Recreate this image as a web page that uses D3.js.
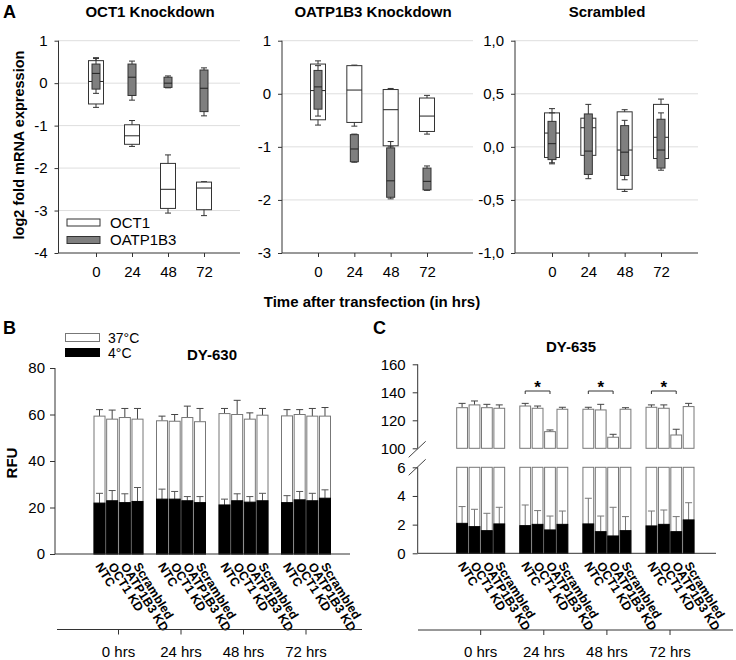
<!DOCTYPE html>
<html><head><meta charset="utf-8">
<script src="https://cdn.jsdelivr.net/npm/d3@7"></script>
<style>body{margin:0;background:#fff} text{font-family:"Liberation Sans",Arial,sans-serif}</style>
</head><body><svg id="c" width="736" height="660"></svg>
<script>
// ---------- DATA ----------
const timepoints = ["0","24","48","72"];
// box stats per time point: [min, q1, median, q3, max]
const oct1KD_OCT1 = [[-0.57,-0.49,0.04,0.53,0.60],[-1.49,-1.44,-1.24,-0.98,-0.88],[-3.06,-2.95,-2.50,-1.89,-1.69],[-3.12,-2.98,-2.47,-2.33,-2.32]];
const oct1KD_OATP = [[-0.24,-0.14,0.23,0.45,0.58],[-0.40,-0.29,0.14,0.45,0.52],[-0.11,-0.10,0.00,0.14,0.17],[-0.77,-0.67,-0.12,0.31,0.36]];
const oatpKD_OCT1 = [[-0.59,-0.49,0.06,0.56,0.62],[-0.61,-0.54,0.07,0.53,0.54],[-1.00,-0.98,-0.30,0.08,0.10],[-0.76,-0.71,-0.42,-0.08,-0.03]];
const oatpKD_OATP = [[-0.42,-0.29,0.13,0.44,0.53],[-1.29,-1.28,-1.04,-0.77,-0.76],[-1.98,-1.95,-1.64,-1.02,-0.90],[-1.82,-1.81,-1.65,-1.40,-1.36]];
const scr_OCT1 = [[-0.15,-0.10,0.13,0.32,0.36],[-0.09,-0.08,0.18,0.27,0.28],[-0.42,-0.40,-0.03,0.33,0.35],[-0.12,-0.11,0.09,0.40,0.45]];
const scr_OATP = [[-0.16,-0.12,0.03,0.24,0.32],[-0.30,-0.26,-0.04,0.31,0.40],[-0.31,-0.27,-0.05,0.20,0.25],[-0.22,-0.20,-0.03,0.26,0.32]];
const ticksA1 = [1,0,-1,-2,-3,-4];
const ticksA2 = [1,0,-1,-2,-3];
const ticksA3 = [1,0.5,0,-0.5,-1];
const seriesNames = ["OCT1","OATP1B3"];

const hours = ["0 hrs","24 hrs","48 hrs","72 hrs"];
const treatments = ["NTC","OCT1 KD","OATP1B3 KD","Scrambled"];
const tempNames = ["37°C","4°C"];
// values ordered hour-major (0h: NTC, OCT1 KD, OATP1B3 KD, Scrambled; then 24h ...)
const dy630_37 = [59.3,58.0,58.7,58.0, 57.3,57.1,58.7,56.9, 60.4,60.0,58.0,59.7, 59.4,60.0,59.3,59.3];
const dy630_37err = [2.8,3.9,3.9,4.6, 2.0,2.9,4.9,5.7, 2.2,6.1,2.7,2.9, 2.7,2.1,3.3,3.7];
const dy630_4 = [21.9,22.9,22.1,22.6, 23.6,23.6,22.9,22.1, 21.1,22.9,22.3,22.9, 22.1,23.3,22.9,24.0];
const dy630_4err = [4.2,4.4,3.8,6.0, 4.3,3.3,1.8,2.6, 2.5,3.0,2.4,3.2, 3.0,3.6,3.2,3.6];
const dy635_37 = [129.0,131.0,129.0,128.6, 130.2,128.6,111.9,127.9, 127.9,127.4,107.9,127.9, 129.3,128.6,109.5,129.8];
const dy635_37err = [3.1,2.8,2.4,2.4, 1.9,1.6,1.2,1.4, 1.4,4.0,2.1,1.1, 1.7,2.4,4.1,2.3];
const dy635_4 = [2.09,1.86,1.58,2.05, 1.93,2.02,1.63,2.02, 2.05,1.51,1.21,1.58, 1.91,2.02,1.51,2.33];
const dy635_4err = [1.17,1.21,1.21,1.16, 1.44,0.96,0.97,0.93, 1.79,1.09,2.00,0.98, 1.04,1.00,1.05,1.20];
const ticksB = [0,20,40,60,80];
const ticksCupper = [100,120,140,160];
const ticksClower = [0,2,4,6];
// significance brackets: [hour index, treatment a, treatment b]
const sigPairs = [[1,0,2],[2,0,2],[3,0,2]];

// ---------- DRAW ----------
const svg = d3.select("#c");
const FONT = "'Liberation Sans',Arial,sans-serif";
const comma = d => d3.format(".1f")(d).replace(".", ",").replace("−","-");
const plain = d => String(d);

function styleAxis(sel, size) {
  sel.selectAll("text").attr("font-family", FONT).attr("font-size", size).attr("fill", "#000");
  sel.selectAll("line").attr("stroke", "#333");
  sel.select(".domain").remove();
}

function boxPanel(o) {
  const x = d3.scalePoint().domain(timepoints).range([o.xFirst, o.xLast]);
  const y = d3.scaleLinear().domain(o.yDomain).range([o.yBottom, o.yTop]);
  const g = svg.append("g");
  g.selectAll("line.grid").data(o.ticks.filter(t => t !== o.yDomain[0])).join("line")
    .attr("x1", o.axisX).attr("x2", o.rightX).attr("y1", d => y(d)).attr("y2", d => y(d))
    .attr("stroke", "#dedede");
  const ya = g.append("g").attr("transform", `translate(${o.axisX},0)`)
    .call(d3.axisLeft(y).tickValues(o.ticks).tickSize(4).tickPadding(7).tickFormat(o.fmt || plain));
  styleAxis(ya, 15);
  const xa = g.append("g").attr("transform", `translate(0,${o.yBottom})`)
    .call(d3.axisBottom(x).tickSize(4).tickPadding(9));
  styleAxis(xa, 15);
  g.append("line").attr("x1", o.axisX).attr("x2", o.axisX).attr("y1", y(o.yDomain[1])).attr("y2", o.yBottom).attr("stroke", "#333");
  g.append("line").attr("x1", o.axisX).attr("x2", o.rightX).attr("y1", o.yBottom).attr("y2", o.yBottom).attr("stroke", "#333");

  const specs = [{data: o.white, w: 15, fill: "#fff", stroke: "#333", cap: 6},
                 {data: o.grey, w: 8, fill: "#7f7f7f", stroke: "#333", cap: 6}];
  specs.forEach(s => {
    const bg = g.append("g");
    const rows = s.data.map((d, i) => ({t: timepoints[i], s: d}));
    bg.selectAll("line.wl").data(rows).join("line")
      .attr("x1", d => x(d.t)).attr("x2", d => x(d.t)).attr("y1", d => y(d.s[0])).attr("y2", d => y(d.s[4]))
      .attr("stroke", "#333");
    ["0", "4"].forEach(k => {
      bg.selectAll("line.cap" + k).data(rows).join("line")
        .attr("x1", d => x(d.t) - s.cap / 2).attr("x2", d => x(d.t) + s.cap / 2)
        .attr("y1", d => y(d.s[+k])).attr("y2", d => y(d.s[+k])).attr("stroke", "#333");
    });
    bg.selectAll("rect").data(rows).join("rect")
      .attr("x", d => x(d.t) - s.w / 2).attr("width", s.w)
      .attr("y", d => y(d.s[3])).attr("height", d => y(d.s[1]) - y(d.s[3]))
      .attr("fill", s.fill).attr("stroke", s.stroke);
    bg.selectAll("line.med").data(rows).join("line")
      .attr("x1", d => x(d.t) - s.w / 2).attr("x2", d => x(d.t) + s.w / 2)
      .attr("y1", d => y(d.s[2])).attr("y2", d => y(d.s[2])).attr("stroke", "#222");
  });
  svg.append("text").attr("x", o.titleX).attr("y", 17).attr("text-anchor", "middle")
    .attr("font-weight", "bold").attr("font-size", 15).text(o.title);
  return g;
}

boxPanel({white: oct1KD_OCT1, grey: oct1KD_OATP, yDomain: [-4, 1], yBottom: 253, yTop: 40.7,
  axisX: 58.5, rightX: 240, xFirst: 96, xLast: 204, ticks: ticksA1, title: "OCT1 Knockdown", titleX: 150});
boxPanel({white: oatpKD_OCT1, grey: oatpKD_OATP, yDomain: [-3, 1], yBottom: 253, yTop: 40.7,
  axisX: 282, rightX: 473, xFirst: 318, xLast: 427, ticks: ticksA2, title: "OATP1B3 Knockdown", titleX: 373});
boxPanel({white: scr_OCT1, grey: scr_OATP, yDomain: [-1, 1], yBottom: 253, yTop: 40.7,
  axisX: 515, rightX: 698, xFirst: 552, xLast: 661, ticks: ticksA3, title: "Scrambled", titleX: 607, fmt: comma});

// legend A
const legA = svg.append("g");
legA.selectAll("rect").data(seriesNames).join("rect")
  .attr("x", 67).attr("y", (d, i) => 219 + i * 17.5).attr("width", 33).attr("height", 7)
  .attr("fill", (d, i) => i ? "#7f7f7f" : "#fff").attr("stroke", "#333");
legA.selectAll("text").data(seriesNames).join("text")
  .attr("x", 110).attr("y", (d, i) => 227.5 + i * 17.5).attr("font-size", 15).text(d => d);

svg.append("text").attr("x", 3).attr("y", 18).attr("font-weight", "bold").attr("font-size", 18).text("A");
svg.append("text").attr("transform", "translate(24,145) rotate(-90)").attr("text-anchor", "middle")
  .attr("font-weight", "bold").attr("font-size", 14.5).text("log2 fold mRNA expression");
svg.append("text").attr("x", 372).attr("y", 307).attr("text-anchor", "middle")
  .attr("font-weight", "bold").attr("font-size", 15).text("Time after transfection (in hrs)");

function rowsOf(v37, e37, v4, e4) {
  return hours.flatMap((h, hi) => treatments.map((t, ti) => {
    const k = hi * 4 + ti;
    return {h, t, v37: v37[k], e37: e37[k], v4: v4[k], e4: e4[k]};
  }));
}

function errBar(g, rows, xf, yTop, yEnd, color) {
  g.selectAll(null).data(rows).join("line")
    .attr("x1", xf).attr("x2", xf).attr("y1", yTop).attr("y2", yEnd).attr("stroke", color);
  g.selectAll(null).data(rows).join("line")
    .attr("x1", d => xf(d) - 3.5).attr("x2", d => xf(d) + 3.5).attr("y1", yEnd).attr("y2", yEnd).attr("stroke", color);
}

function groupAxis(outer, inner, rows, axisY, y2, x1, x2) {
  const g = svg.append("g");
  g.selectAll("text.lab").data(rows).join("text")
    .attr("transform", d => `translate(${outer(d.h) + inner(d.t) + inner.bandwidth() / 2 - 4.5},${axisY + 12}) rotate(58)`)
    .attr("font-weight", "bold").attr("font-size", 12.5).text(d => d.t);
  g.append("line").attr("x1", x1).attr("x2", x2).attr("y1", y2).attr("y2", y2).attr("stroke", "#333");
  g.selectAll("line.t").data(hours).join("line")
    .attr("x1", d => outer(d) + outer.bandwidth() / 2).attr("x2", d => outer(d) + outer.bandwidth() / 2)
    .attr("y1", y2).attr("y2", y2 + 5).attr("stroke", "#333");
  g.selectAll("text.h").data(hours).join("text")
    .attr("x", d => outer(d) + outer.bandwidth() / 2).attr("y", y2 + 27).attr("text-anchor", "middle")
    .attr("font-size", 15).text(d => d);
}

// ---- Panel B ----
{
  const rows = rowsOf(dy630_37, dy630_37err, dy630_4, dy630_4err);
  const y = d3.scaleLinear().domain([0, 80]).range([554, 368]);
  const outer = d3.scaleBand().domain(hours).range([94, 330.5]).paddingInner(0.216);
  const inner = d3.scaleBand().domain(treatments).range([0, outer.bandwidth()]).paddingInner(0.13);
  const cx = d => outer(d.h) + inner(d.t) + inner.bandwidth() / 2;
  const g = svg.append("g");
  errBar(g, rows, cx, d => y(d.v37), d => y(d.v37 + d.e37), "#444");
  g.selectAll("rect.w").data(rows).join("rect")
    .attr("x", d => outer(d.h) + inner(d.t)).attr("width", inner.bandwidth())
    .attr("y", d => y(d.v37)).attr("height", d => y(0) - y(d.v37))
    .attr("fill", "#fff").attr("stroke", "#777");
  errBar(g, rows, cx, d => y(d.v4), d => y(d.v4 + d.e4), "#555");
  g.selectAll("rect.b").data(rows).join("rect")
    .attr("x", d => outer(d.h) + inner(d.t)).attr("width", inner.bandwidth())
    .attr("y", d => y(d.v4)).attr("height", d => y(0) - y(d.v4))
    .attr("fill", "#000").attr("stroke", "#000");
  const ya = svg.append("g").attr("transform", "translate(55,0)")
    .call(d3.axisLeft(y).tickValues(ticksB).tickSize(5).tickPadding(5).tickFormat(plain));
  styleAxis(ya, 15);
  svg.append("line").attr("x1", 55).attr("x2", 55).attr("y1", 368).attr("y2", 554).attr("stroke", "#333");
  svg.append("line").attr("x1", 55).attr("x2", 350).attr("y1", 554).attr("y2", 554).attr("stroke", "#333");
  groupAxis(outer, inner, rows, 554, 629.5, 57, 362);
  svg.append("text").attr("transform", "translate(17,463) rotate(-90)").attr("text-anchor", "middle")
    .attr("font-weight", "bold").attr("font-size", 15).text("RFU");
  svg.append("text").attr("x", 3).attr("y", 334).attr("font-weight", "bold").attr("font-size", 18).text("B");
  svg.append("text").attr("x", 212).attr("y", 360).attr("text-anchor", "middle")
    .attr("font-weight", "bold").attr("font-size", 15).text("DY-630");
  const leg = svg.append("g");
  leg.selectAll("rect").data(tempNames).join("rect")
    .attr("x", 65.5).attr("y", (d, i) => 333.5 + i * 15).attr("width", 34).attr("height", 8)
    .attr("fill", (d, i) => i ? "#000" : "#fff").attr("stroke", (d, i) => i ? "#000" : "#777");
  leg.selectAll("text").data(tempNames).join("text")
    .attr("x", 108).attr("y", (d, i) => 342.5 + i * 15.5).attr("font-size", 14).text(d => d);
}

// ---- Panel C ----
{
  const rows = rowsOf(dy635_37, dy635_37err, dy635_4, dy635_4err);
  const yU = d3.scaleLinear().domain([100, 160]).range([448.3, 364.3]);
  const yL = d3.scaleLinear().domain([0, 6]).range([553.3, 467.3]);
  const outer = d3.scaleBand().domain(hours).range([456.7, 694]).paddingInner(0.24);
  const inner = d3.scaleBand().domain(treatments).range([0, outer.bandwidth()]).paddingInner(0.13);
  const cx = d => outer(d.h) + inner(d.t) + inner.bandwidth() / 2;
  const g = svg.append("g");
  errBar(g, rows, cx, d => yU(d.v37), d => yU(d.v37 + d.e37), "#444");
  g.selectAll("rect.u").data(rows).join("rect")
    .attr("x", d => outer(d.h) + inner(d.t)).attr("width", inner.bandwidth())
    .attr("y", d => yU(d.v37)).attr("height", d => yU(100) - yU(d.v37))
    .attr("fill", "#fff").attr("stroke", "#777");
  g.selectAll("rect.l").data(rows).join("rect")
    .attr("x", d => outer(d.h) + inner(d.t)).attr("width", inner.bandwidth())
    .attr("y", d => yL(Math.min(6, d.v37))).attr("height", d => yL(0) - yL(Math.min(6, d.v37)))
    .attr("fill", "#fff").attr("stroke", "#777");
  errBar(g, rows, cx, d => yL(d.v4), d => yL(d.v4 + d.e4), "#777");
  g.selectAll("rect.b").data(rows).join("rect")
    .attr("x", d => outer(d.h) + inner(d.t)).attr("width", inner.bandwidth())
    .attr("y", d => yL(d.v4)).attr("height", d => yL(0) - yL(d.v4))
    .attr("fill", "#000").attr("stroke", "#000");
  const ax = 417.7;
  const yaU = svg.append("g").attr("transform", `translate(${ax},0)`)
    .call(d3.axisLeft(yU).tickValues(ticksCupper).tickSize(5).tickPadding(7).tickFormat(plain));
  styleAxis(yaU, 15);
  const yaL = svg.append("g").attr("transform", `translate(${ax},0)`)
    .call(d3.axisLeft(yL).tickValues(ticksClower).tickSize(5).tickPadding(7).tickFormat(plain));
  styleAxis(yaL, 15);
  svg.append("line").attr("x1", ax).attr("x2", ax).attr("y1", yU(160)).attr("y2", yU(100)).attr("stroke", "#333");
  svg.append("line").attr("x1", ax).attr("x2", ax).attr("y1", yL(6)).attr("y2", yL(0)).attr("stroke", "#333");
  [[yU(100) + 9, yU(100) - 7], [yL(6) + 8, yL(6) - 8]].forEach(([a, b]) =>
    svg.append("line").attr("x1", ax - 9).attr("x2", ax + 8).attr("y1", a).attr("y2", b).attr("stroke", "#444"));
  svg.append("line").attr("x1", ax).attr("x2", 716).attr("y1", 553.3).attr("y2", 553.3).attr("stroke", "#333");
  groupAxis(outer, inner, rows, 553.3, 630, 418, 733);
  // significance
  const sg = svg.append("g");
  sigPairs.forEach(([hi, a, b]) => {
    const h = hours[hi];
    const xa = outer(h) + inner(treatments[a]) + inner.bandwidth() / 2;
    const xb = outer(h) + inner(treatments[b]) + inner.bandwidth() / 2;
    sg.append("path").attr("d", `M${xa},394V391H${xb}V394`).attr("fill", "none").attr("stroke", "#333");
    sg.append("text").attr("x", (xa + xb) / 2).attr("y", 393).attr("text-anchor", "middle")
      .attr("font-weight", "bold").attr("font-size", 17).text("*");
  });
  svg.append("text").attr("x", 373).attr("y", 334).attr("font-weight", "bold").attr("font-size", 18).text("C");
  svg.append("text").attr("x", 571).attr("y", 352).attr("text-anchor", "middle")
    .attr("font-weight", "bold").attr("font-size", 15).text("DY-635");
}
</script></body></html>
